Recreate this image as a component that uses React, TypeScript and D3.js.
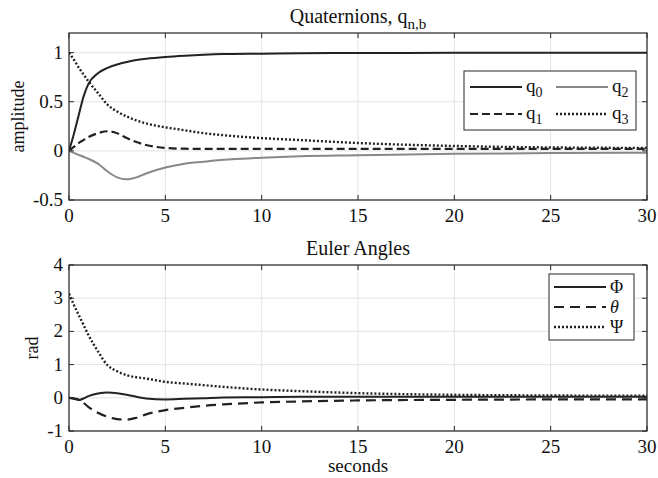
import React from "react";
import * as d3 from "d3";

const time = [0, 0.25, 0.5, 0.75, 1, 1.5, 2, 2.5, 3, 3.5, 4, 5, 6, 7, 8, 10, 12, 15, 20, 25, 30];
const q0 = [0, 0.17, 0.36, 0.55, 0.68, 0.79, 0.845, 0.88, 0.905, 0.925, 0.937, 0.955, 0.968, 0.978, 0.985, 0.99, 0.995, 0.997, 0.998, 0.999, 1.0];
const q1 = [0, 0.04, 0.08, 0.11, 0.14, 0.18, 0.2, 0.18, 0.13, 0.09, 0.06, 0.03, 0.022, 0.02, 0.02, 0.02, 0.02, 0.02, 0.02, 0.02, 0.02];
const q2 = [0, -0.02, -0.04, -0.06, -0.08, -0.13, -0.21, -0.27, -0.29, -0.27, -0.23, -0.17, -0.13, -0.11, -0.09, -0.07, -0.055, -0.045, -0.03, -0.022, -0.02];
const q3 = [1.0, 0.93, 0.85, 0.78, 0.71, 0.59, 0.47, 0.4, 0.35, 0.31, 0.28, 0.24, 0.21, 0.18, 0.16, 0.13, 0.11, 0.08, 0.05, 0.035, 0.03];

const phi = [0, -0.03, -0.07, -0.02, 0.05, 0.13, 0.16, 0.14, 0.09, 0.03, -0.02, -0.05, -0.03, -0.01, 0.01, 0.02, 0.03, 0.03, 0.03, 0.03, 0.03];
const theta = [0, -0.02, -0.05, -0.15, -0.27, -0.45, -0.57, -0.64, -0.66, -0.6, -0.5, -0.37, -0.3, -0.24, -0.2, -0.14, -0.11, -0.08, -0.06, -0.05, -0.05];
const psi = [3.14, 2.8, 2.5, 2.2, 1.9, 1.4, 0.98, 0.8, 0.68, 0.62, 0.58, 0.48, 0.43, 0.38, 0.33, 0.25, 0.2, 0.14, 0.09, 0.07, 0.06];

const xTicks = [0, 5, 10, 15, 20, 25, 30];
const yTicksTop = [-0.5, 0, 0.5, 1];
const yTicksBottom = [-1, 0, 1, 2, 3, 4];

const FONT = "Liberation Serif";
const AX = "#262626";
const GRID = "#e3e3e3";

type Series = { values: number[]; color: string; dash?: string; width: number };

function Panel({
  top, bottom, yDomain, yTicks, series, title, ylabel, ylabelX,
}: {
  top: number; bottom: number; yDomain: [number, number]; yTicks: number[];
  series: Series[]; title: React.ReactNode; ylabel: string; ylabelX: number;
}) {
  const left = 69, right = 647;
  const x = d3.scaleLinear().domain([0, 30]).range([left, right]);
  const y = d3.scaleLinear().domain(yDomain).range([bottom, top]);
  const line = d3.line<number>().x((_, i) => x(time[i])).y((d) => y(d)).curve(d3.curveMonotoneX);
  const tl = 5;
  return (
    <g>
      {xTicks.map((t) => (
        <line key={"gx" + t} x1={x(t)} x2={x(t)} y1={top} y2={bottom} stroke={GRID} strokeWidth={1} />
      ))}
      {yTicks.map((t) => (
        <line key={"gy" + t} x1={left} x2={right} y1={y(t)} y2={y(t)} stroke={GRID} strokeWidth={1} />
      ))}
      <defs>
        <clipPath id={"clip" + top}>
          <rect x={left} y={top} width={right - left} height={bottom - top} />
        </clipPath>
      </defs>
      <g clipPath={`url(#clip${top})`}>
        {series.map((s, i) => (
          <path key={i} d={line(s.values) || ""} fill="none" stroke={s.color} strokeWidth={s.width} strokeDasharray={s.dash} />
        ))}
      </g>
      <rect x={left} y={top} width={right - left} height={bottom - top} fill="none" stroke={AX} strokeWidth={1.2} />
      {xTicks.map((t) => (
        <g key={"tx" + t}>
          <line x1={x(t)} x2={x(t)} y1={bottom} y2={bottom - tl} stroke={AX} />
          <line x1={x(t)} x2={x(t)} y1={top} y2={top + tl} stroke={AX} />
          <text x={x(t)} y={bottom + 22} textAnchor="middle" fontSize={19} style={{ fontFamily: FONT }} fill="#111">{t}</text>
        </g>
      ))}
      {yTicks.map((t) => (
        <g key={"ty" + t}>
          <line x1={left} x2={left + tl} y1={y(t)} y2={y(t)} stroke={AX} />
          <line x1={right} x2={right - tl} y1={y(t)} y2={y(t)} stroke={AX} />
          <text x={left - 6} y={y(t) + 6} textAnchor="end" fontSize={19} style={{ fontFamily: FONT }} fill="#111">{t}</text>
        </g>
      ))}
      <text x={358} y={top - 10} textAnchor="middle" fontSize={20} style={{ fontFamily: FONT }} fill="#111">{title}</text>
      <text transform={`translate(${ylabelX},${(top + bottom) / 2}) rotate(-90)`} textAnchor="middle" fontSize={18} style={{ fontFamily: FONT }} fill="#111">{ylabel}</text>
    </g>
  );
}

export default function App() {
  const topSeries: Series[] = [
    { values: q0, color: "#222", width: 2 },
    { values: q1, color: "#222", width: 2.2, dash: "8,4" },
    { values: q2, color: "#888", width: 2 },
    { values: q3, color: "#222", width: 2.4, dash: "2,2" },
  ];
  const botSeries: Series[] = [
    { values: phi, color: "#222", width: 2 },
    { values: theta, color: "#222", width: 2.2, dash: "10,6" },
    { values: psi, color: "#222", width: 2.4, dash: "2,2" },
  ];
  return (
    <svg width={658} height={478} style={{ position: "absolute", left: 0, top: 0, background: "#fff", fontFamily: FONT }}>
      <Panel
        top={33} bottom={200} yDomain={[-0.5, 1.2]} yTicks={yTicksTop} series={topSeries}
        ylabel="amplitude" ylabelX={24}
        title={<>Quaternions, q<tspan fontSize={15} dy={6}>n,b</tspan></>}
      />
      <Panel
        top={265} bottom={431} yDomain={[-1, 4]} yTicks={yTicksBottom} series={botSeries}
        ylabel="rad" ylabelX={38} title="Euler Angles"
      />
      <text x={358} y={472} textAnchor="middle" fontSize={19} style={{ fontFamily: FONT }} fill="#111">seconds</text>
      {/* top legend */}
      <g style={{ fontFamily: FONT }} fill="#111">
        <rect x={464} y={71} width={172} height={59} fill="#fff" stroke={AX} strokeWidth={1} />
        <line x1={470} x2={522} y1={87} y2={87} stroke="#222" strokeWidth={2} />
        <text x={526} y={92} fontSize={19}>q<tspan fontSize={14} dy={5}>0</tspan></text>
        <line x1={556} x2={608} y1={87} y2={87} stroke="#888" strokeWidth={2} />
        <text x={612} y={92} fontSize={19}>q<tspan fontSize={14} dy={5}>2</tspan></text>
        <line x1={470} x2={522} y1={114} y2={114} stroke="#222" strokeWidth={2.2} strokeDasharray="8,4" />
        <text x={526} y={119} fontSize={19}>q<tspan fontSize={14} dy={5}>1</tspan></text>
        <line x1={556} x2={608} y1={114} y2={114} stroke="#222" strokeWidth={2.4} strokeDasharray="2,2" />
        <text x={612} y={119} fontSize={19}>q<tspan fontSize={14} dy={5}>3</tspan></text>
      </g>
      {/* bottom legend */}
      <g style={{ fontFamily: FONT }} fill="#111">
        <rect x={549} y={274} width={85} height={66} fill="#fff" stroke={AX} strokeWidth={1} />
        <line x1={554} x2={606} y1={287} y2={287} stroke="#222" strokeWidth={2} />
        <text x={610} y={293} fontSize={18}>Φ</text>
        <line x1={554} x2={606} y1={307} y2={307} stroke="#222" strokeWidth={2.2} strokeDasharray="10,6" />
        <text x={610} y={313} fontSize={18} fontStyle="italic">θ</text>
        <line x1={554} x2={606} y1={327} y2={327} stroke="#222" strokeWidth={2.4} strokeDasharray="2,2" />
        <text x={610} y={333} fontSize={18}>Ψ</text>
      </g>
    </svg>
  );
}
